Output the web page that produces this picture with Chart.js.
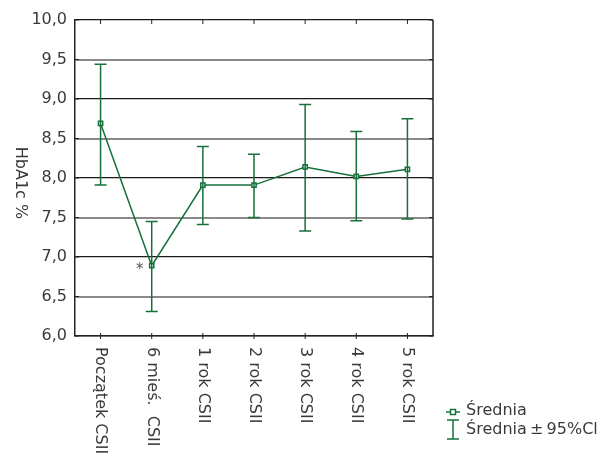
<!DOCTYPE html>
<html>
<head>
<meta charset="utf-8">
<script src="https://cdn.jsdelivr.net/npm/chart.js@4.4.1/dist/chart.umd.min.js"></script>
<style>
  html, body { margin: 0; padding: 0; background: #fff; }
  #wrap { width: 606px; height: 457px; }
</style>
</head>
<body>
<div id="wrap"><canvas id="mygraph" width="606" height="457"></canvas></div>
<script>
// categories on the x axis
const categories = ["Początek CSII", "6 mieś.  CSII", "1 rok CSII", "2 rok CSII", "3 rok CSII", "4 rok CSII", "5 rok CSII"];
// mean HbA1c
const means = [8.69, 6.89, 7.91, 7.91, 8.14, 8.02, 8.11];
// 95% CI bounds
const ciLow = [7.91, 6.31, 7.41, 7.50, 7.33, 7.46, 7.48];
const ciHigh = [9.44, 7.45, 8.40, 8.30, 8.93, 8.59, 8.75];

const green = "#16703a";
const textColor = "#3a3a3a";
const fontFamily = "'DejaVu Sans', sans-serif";

// error bars, frame, rotated labels, legend
const extras = {
    id: "extras",
    afterDatasetsDraw(chart) {
        const c = chart.ctx;
        const xs = chart.scales.x;
        const ys = chart.scales.y;
        const area = chart.chartArea;
        c.save();

        // error bars
        c.strokeStyle = green;
        c.lineWidth = 1.5;
        for (let i = 0; i < means.length; i++) {
            const x = xs.getPixelForValue(i);
            const yT = ys.getPixelForValue(ciHigh[i]);
            const yB = ys.getPixelForValue(ciLow[i]);
            c.beginPath();
            c.moveTo(x, yT); c.lineTo(x, yB);
            c.moveTo(x - 6, yT); c.lineTo(x + 6, yT);
            c.moveTo(x - 6, yB); c.lineTo(x + 6, yB);
            c.stroke();
        }

        // right frame + ticks
        c.strokeStyle = "#222";
        c.lineWidth = 1.5;
        c.beginPath();
        c.moveTo(area.right, area.top);
        c.lineTo(area.right, area.bottom);
        c.stroke();
        c.lineWidth = 1;
        c.beginPath();
        for (let v = 6; v <= 10; v += 0.5) {
            const y = ys.getPixelForValue(v);
            c.moveTo(area.left, y); c.lineTo(area.left + 4, y);
            c.moveTo(area.right, y); c.lineTo(area.right - 4, y);
        }
        for (let i = 0; i < categories.length; i++) {
            const x = xs.getPixelForValue(i);
            c.moveTo(x, area.bottom - 3); c.lineTo(x, area.bottom + 3);
            c.moveTo(x, area.top); c.lineTo(x, area.top + 4);
        }
        c.stroke();

        // asterisk near 6 months point
        c.fillStyle = "#555";
        c.font = "15px " + fontFamily;
        c.textAlign = "center";
        c.textBaseline = "middle";
        c.fillText("*", xs.getPixelForValue(1) - 12, ys.getPixelForValue(means[1]) + 4);

        // x labels, rotated clockwise
        c.fillStyle = textColor;
        c.font = "16px " + fontFamily;
        c.textAlign = "left";
        c.textBaseline = "middle";
        for (let i = 0; i < categories.length; i++) {
            c.save();
            c.translate(xs.getPixelForValue(i), area.bottom + 11);
            c.rotate(Math.PI / 2);
            c.fillText(categories[i], 0, 0);
            c.restore();
        }

        // y title, rotated clockwise
        c.save();
        c.translate(20, 183);
        c.rotate(Math.PI / 2);
        c.textAlign = "center";
        c.fillText("HbA1c %", 0, 0);
        c.restore();

        // legend
        const lx = 453;
        c.strokeStyle = green;
        c.lineWidth = 1.5;
        c.beginPath();
        c.moveTo(lx - 7, 412); c.lineTo(lx + 7, 412);
        c.stroke();
        c.fillStyle = "#fff";
        c.fillRect(lx - 2.5, 409.5, 5, 5);
        c.strokeRect(lx - 2.5, 409.5, 5, 5);
        c.beginPath();
        c.moveTo(lx, 420); c.lineTo(lx, 439);
        c.moveTo(lx - 6, 420); c.lineTo(lx + 6, 420);
        c.moveTo(lx - 6, 439); c.lineTo(lx + 6, 439);
        c.stroke();
        c.fillStyle = textColor;
        c.font = "16px " + fontFamily;
        c.textAlign = "left";
        c.fillText("Średnia", 466, 411);
        c.fillText("Średnia\u2009±\u200995%Cl", 466, 430);

        c.restore();
    }
};

const ctx = document.getElementById("mygraph").getContext("2d");

const chart = new Chart(ctx, {
    type: "line",
    data: {
        labels: categories,
        datasets: [{
            label: "Średnia",
            data: means,
            borderColor: green,
            borderWidth: 1.5,
            backgroundColor: "#fff",
            pointStyle: "rect",
            pointRadius: 3,
            pointBorderColor: green,
            pointBorderWidth: 1.5,
            pointBackgroundColor: "#fff",
            tension: 0,
        }],
    },
    options: {
        responsive: false,
        animation: false,
        layout: { padding: { top: 20, right: 173, left: 0, bottom: 0 } },
        plugins: {
            legend: { display: false },
            tooltip: { enabled: false },
        },
        scales: {
            x: {
                offset: true,
                grid: { display: false, drawTicks: false },
                border: { display: true, color: "#222", width: 1.5 },
                ticks: { display: false },
                afterFit: (s) => { s.height = 121; },
            },
            y: {
                min: 6,
                max: 10,
                grid: {
                    drawTicks: false,
                    color: (c) => (Math.abs(c.tick.value % 1) < 0.01 ? "#1a1a1a" : "#8a8a8a"),
                    lineWidth: (c) => (Math.abs(c.tick.value % 1) < 0.01 ? 1.2 : 2),
                },
                border: { display: true, color: "#222", width: 1.5 },
                ticks: {
                    stepSize: 0.5,
                    padding: 8,
                    color: textColor,
                    font: { size: 16, family: fontFamily },
                    callback: (v) => Number(v).toFixed(1).replace(".", ","),
                },
                afterFit: (s) => { s.width = 75; },
            },
        },
    },
    plugins: [extras],
});
</script>
</body>
</html>
